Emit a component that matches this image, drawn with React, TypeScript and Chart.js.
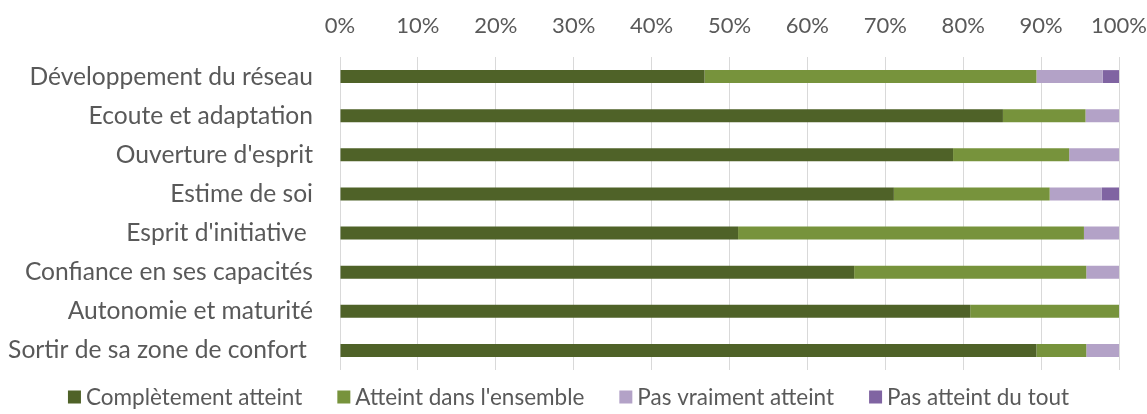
import React, { useEffect, useRef } from "react";
import { Chart, registerables } from "chart.js";

Chart.register(...registerables);

const categories = [
  "Développement du réseau",
  "Ecoute et adaptation",
  "Ouverture d'esprit",
  "Estime de soi",
  "Esprit d'initiative ",
  "Confiance en ses capacités",
  "Autonomie et maturité",
  "Sortir de sa zone de confort ",
];

const completementAtteint = [46.8, 85.1, 78.7, 71.1, 51.1, 66.0, 80.9, 89.4];
const atteintEnsemble = [42.6, 10.6, 14.9, 20.0, 44.4, 29.8, 19.1, 6.4];
const pasVraimentAtteint = [8.5, 4.3, 6.4, 6.7, 4.5, 4.3, 0, 4.3];
const pasAtteintDuTout = [2.1, 0, 0, 2.2, 0, 0, 0, 0];

const seriesLabels = [
  "Complètement atteint",
  "Atteint dans l'ensemble",
  "Pas vraiment atteint",
  "Pas atteint du tout",
];
const seriesColors = ["#4F6228", "#77933C", "#B3A2C7", "#8064A2"];

const tickValues = [0, 10, 20, 30, 40, 50, 60, 70, 80, 90, 100];

const FONT = "Lato";
const TEXT = "#595959";

const customLegend = {
  id: "customLegend",
  afterDraw(chart: any) {
    const ctx = chart.ctx;
    ctx.save();
    ctx.font = `22.5px ${FONT}`;
    ctx.textBaseline = "middle";
    const box = 13;
    const gapBox = 5;
    const gapItem = 35;
    const items = chart.data.datasets.map((d: any) => ({
      label: d.label,
      color: d.backgroundColor,
      w: box + gapBox + ctx.measureText(d.label).width,
    }));
    const total =
      items.reduce((s: number, it: any) => s + it.w, 0) + gapItem * (items.length - 1);
    let x = (chart.width - total) / 2 - 5;
    const y = 397;
    items.forEach((it: any) => {
      ctx.fillStyle = it.color;
      ctx.fillRect(x, y - box / 2, box, box);
      ctx.fillStyle = TEXT;
      ctx.textAlign = "left";
      ctx.fillText(it.label, x + box + gapBox, y + 1);
      x += it.w + gapItem;
    });
    ctx.restore();
  },
};

export default function App() {
  const ref = useRef<HTMLCanvasElement | null>(null);
  useEffect(() => {
    if (!ref.current) return;
    const data = [completementAtteint, atteintEnsemble, pasVraimentAtteint, pasAtteintDuTout];
    const chart = new Chart(ref.current, {
      type: "bar",
      data: {
        labels: categories,
        datasets: data.map((d, i) => ({
          label: seriesLabels[i],
          data: d,
          backgroundColor: seriesColors[i],
          borderWidth: 0,
          categoryPercentage: 1,
          barPercentage: 0.33,
        })),
      },
      options: {
        indexAxis: "y",
        animation: false,
        responsive: false,
        maintainAspectRatio: false,
        layout: { padding: { left: 0, right: 28, top: 0, bottom: 44 } },
        plugins: {
          legend: { display: false },
          tooltip: { enabled: false },
        },
        scales: {
          x: {
            position: "top",
            stacked: true,
            min: 0,
            max: 100,
            afterBuildTicks: (s: any) => {
              s.ticks = tickValues.map((v) => ({ value: v }));
            },
            afterFit: (s: any) => {
              s.height = 57;
              s.paddingLeft = 0;
              s.paddingRight = 0;
            },
            ticks: {
              callback: (v: any) => v + "%",
              color: TEXT,
              font: { family: FONT, size: 22 },
              padding: 18,
              maxRotation: 0,
            },
            grid: { color: "#D9D9D9", lineWidth: 1, drawTicks: false },
            border: { display: false },
          },
          y: {
            stacked: true,
            afterFit: (s: any) => {
              s.width = 340;
              s.paddingTop = 0;
              s.paddingBottom = 0;
            },
            ticks: {
              color: TEXT,
              font: { family: FONT, size: 24.6 },
              padding: 27,
              autoSkip: false,
            },
            grid: { display: false, drawTicks: false },
            border: { display: false },
          },
        },
      },
      plugins: [customLegend],
    });
    return () => chart.destroy();
  }, []);
  return (
    <div style={{ position: "absolute", left: 0, top: 0, width: 1147, height: 414, background: "#fff" }}>
      <canvas ref={ref} width={1147} height={414} style={{ width: 1147, height: 414 }} />
    </div>
  );
}
